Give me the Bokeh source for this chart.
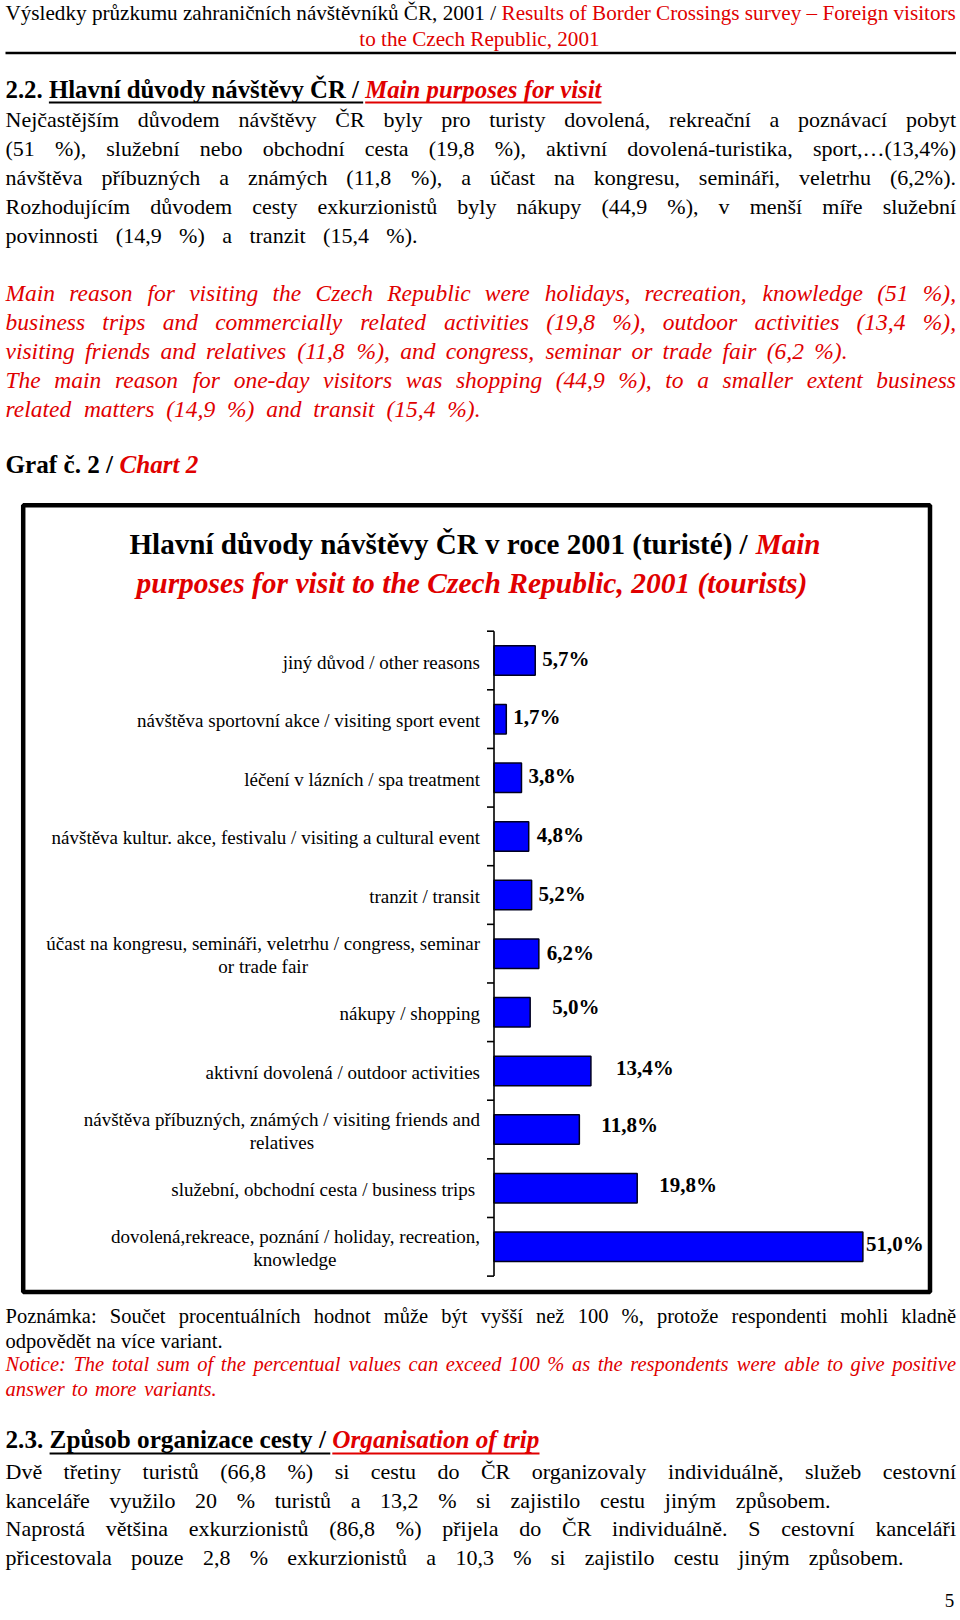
import os
import struct
import numpy as np
from bokeh.plotting import figure
from bokeh.models import Range1d, ColumnDataSource
from bokeh.core.properties import value
from bokeh.embed import file_html
from bokeh.resources import INLINE

# ---------------- chart data ----------------
categories = [
    "jiný důvod / other reasons",
    "návštěva sportovní akce / visiting sport event",
    "léčení v lázních / spa treatment",
    "návštěva kultur. akce, festivalu / visiting a cultural event",
    "tranzit / transit",
    "účast na kongresu, semináři, veletrhu / congress, seminar\nor trade fair",
    "nákupy / shopping",
    "aktivní dovolená / outdoor activities",
    "návštěva příbuzných, známých / visiting friends and\nrelatives",
    "služební,  obchodní cesta / business trips",
    "dovolená,rekreace, poznání / holiday, recreation,\nknowledge",
]
shares = [5.7, 1.7, 3.8, 4.8, 5.2, 6.2, 5.0, 13.4, 11.8, 19.8, 51.0]

chart_title_cz = "Hlavní důvody návštěvy ČR v roce 2001 (turisté) /"
chart_title_en1 = "Main"
chart_title_en2 = "purposes for visit to the Czech Republic, 2001 (tourists)"

# ---------------- page texts ----------------
header_cz = "Výsledky průzkumu zahraničních návštěvníků ČR, 2001 /"
header_en1 = "Results of Border Crossings survey – Foreign visitors"
header_en2 = "to the Czech Republic, 2001"

heading22_cz = "2.2. Hlavní důvody návštěvy ČR /"
heading22_en = "Main purposes for visit"

para_cz = [
    "Nejčastějším důvodem návštěvy ČR byly pro turisty dovolená, rekreační a poznávací pobyt",
    "(51 %), služební nebo obchodní cesta (19,8 %), aktivní dovolená-turistika, sport,…(13,4%)",
    "návštěva příbuzných a známých (11,8 %), a účast na kongresu, semináři, veletrhu (6,2%).",
    "Rozhodujícím důvodem cesty exkurzionistů byly nákupy (44,9 %), v menší míře služební",
    "povinnosti (14,9 %) a tranzit (15,4 %).",
]
para_en = [
    "Main reason for visiting the Czech Republic were holidays, recreation, knowledge (51 %),",
    "business trips and commercially related activities (19,8 %), outdoor activities (13,4 %),",
    "visiting friends and relatives (11,8 %), and congress, seminar or trade fair (6,2 %).",
    "The main reason for one-day visitors was shopping (44,9 %), to a smaller extent business",
    "related matters (14,9  %) and transit (15,4  %).",
]
graf_cz = "Graf č.  2 /"
graf_en = "Chart 2"

note_cz = [
    "Poznámka: Součet procentuálních hodnot může být vyšší než 100 %, protože respondenti mohli kladně",
    "odpovědět na více variant.",
]
note_en = [
    "Notice: The total sum of the percentual values can exceed 100 %  as the respondents were able to give positive",
    "answer to more variants.",
]
heading23_cz = "2.3. Způsob organizace cesty /"
heading23_en = "Organisation of trip"
para2_cz = [
    "Dvě třetiny turistů (66,8 %) si cestu do ČR organizovaly individuálně, služeb cestovní",
    "kanceláře využilo 20 % turistů a 13,2 % si zajistilo cestu jiným způsobem.",
    "Naprostá většina exkurzionistů (86,8 %) přijela do ČR individuálně. S cestovní kanceláři",
    "přicestovala pouze 2,8 % exkurzionistů a 10,3 % si zajistilo cestu jiným způsobem.",
]
page_number = "5"

# ---------------- layout / style (page pixel coordinates) ----------------
BLACK = "#000000"
RED = "#E00000"
BLUE = "#0000FF"
FONT = "Liberation Serif"
W, H = 958, 1616
PX0, PX1, PY0, PY1 = 0, W, 0, H
LM, RM = 5, 955.5
AXIS_X = 493.5
PX_PER_PCT = 7.233
ROW0_Y = 660.0
ROW_PX = 58.63
BAR_PX = 29.5
label_dx = [7, 7, 7, 8, 7, 8, 22, 25, 22, 22, 3]
label_dy = [-2, -2, -2, -1, -1, -1, -5, -3, -5, -3, -3]


# ---------------- font metrics (for justification) ----------------
def find_font(name):
    roots = ["/usr/share/fonts", "/usr/local/share/fonts",
             os.path.expanduser("~/.fonts"), os.path.expanduser("~/.local/share/fonts")]
    for r in roots:
        if not os.path.isdir(r):
            continue
        for d, _, files in os.walk(r):
            if name in files:
                return os.path.join(d, name)
    return None


class TTFMetrics:
    def __init__(self, path):
        data = open(path, "rb").read()
        self.data = data
        num = struct.unpack(">H", data[4:6])[0]
        tables = {}
        for i in range(num):
            tag, cs, off, ln = struct.unpack(">4sIII", data[12 + 16 * i: 28 + 16 * i])
            tables[tag.decode("latin1")] = off
        head = tables["head"]
        self.upem = struct.unpack(">H", data[head + 18: head + 20])[0]
        hhea = tables["hhea"]
        nhm = struct.unpack(">H", data[hhea + 34: hhea + 36])[0]
        hmtx = tables["hmtx"]
        self.adv = [struct.unpack(">H", data[hmtx + 4 * i: hmtx + 4 * i + 2])[0] for i in range(nhm)]
        cmap = tables["cmap"]
        n = struct.unpack(">H", data[cmap + 2: cmap + 4])[0]
        sub = None
        for i in range(n):
            pid, eid, off = struct.unpack(">HHI", data[cmap + 4 + 8 * i: cmap + 12 + 8 * i])
            fmt = struct.unpack(">H", data[cmap + off: cmap + off + 2])[0]
            if fmt == 4 and ((pid == 3 and eid in (0, 1)) or pid == 0):
                sub = cmap + off
                if pid == 3 and eid == 1:
                    break
        o = sub
        segx2 = struct.unpack(">H", data[o + 6: o + 8])[0]
        seg = segx2 // 2
        self.ends = struct.unpack(">%dH" % seg, data[o + 14: o + 14 + segx2])
        self.starts = struct.unpack(">%dH" % seg, data[o + 16 + segx2: o + 16 + 2 * segx2])
        self.deltas = struct.unpack(">%dh" % seg, data[o + 16 + 2 * segx2: o + 16 + 3 * segx2])
        self.rpos = o + 16 + 3 * segx2
        self.roffs = struct.unpack(">%dH" % seg, data[self.rpos: self.rpos + segx2])
        self.cache = {}

    def gid(self, c):
        if c in self.cache:
            return self.cache[c]
        cp = ord(c)
        g = 0
        for i in range(len(self.ends)):
            if cp <= self.ends[i]:
                if cp >= self.starts[i]:
                    if self.roffs[i] == 0:
                        g = (cp + self.deltas[i]) & 0xFFFF
                    else:
                        addr = self.rpos + 2 * i + self.roffs[i] + 2 * (cp - self.starts[i])
                        gg = struct.unpack(">H", self.data[addr: addr + 2])[0]
                        g = (gg + self.deltas[i]) & 0xFFFF if gg else 0
                break
        self.cache[c] = g
        return g

    def width(self, s, size):
        tot = 0
        for c in s:
            g = self.gid(c)
            tot += self.adv[min(g, len(self.adv) - 1)]
        return tot * size / self.upem


class ApproxMetrics:
    def __init__(self, bold):
        self.k = 1.05 if bold else 1.0

    def width(self, s, size):
        tot = 0.0
        for c in s:
            if c == " ":
                w = 0.25
            elif c in "il.,;:'!|íĺľj()/t":
                w = 0.29
            elif c.isdigit():
                w = 0.5
            elif c in "mwMW%":
                w = 0.8
            elif c.isupper():
                w = 0.68
            else:
                w = 0.46
            tot += w
        return tot * size * self.k


FM = {}
for style, fname in [("normal", "LiberationSerif-Regular.ttf"), ("bold", "LiberationSerif-Bold.ttf"),
                     ("italic", "LiberationSerif-Italic.ttf"), ("bold italic", "LiberationSerif-BoldItalic.ttf")]:
    path = find_font(fname)
    m = None
    if path:
        try:
            m = TTFMetrics(path)
        except Exception:
            m = None
    FM[style] = m if m is not None else ApproxMetrics("bold" in style)

# ---------------- text placement helpers ----------------
items = dict(x=[], y=[], text=[], fsize=[], fstyle=[], tcolor=[])
rules = dict(x0=[], x1=[], y0=[], y1=[], lcolor=[], lw=[])


def put(x, y, s, size, style, color):
    # y is the wanted baseline; the renderer sets alphabetic text ~0.33em lower
    items["x"].append(x)
    items["y"].append(y - 0.33 * size - 1.5)
    items["text"].append(s)
    items["fsize"].append("%.2fpx" % size)
    items["fstyle"].append(style)
    items["tcolor"].append(color)


def place(segs, y, x0=None, x1=None, size=None, fit=False, center=None, justify=False):
    words = []
    for si, (t, st, col) in enumerate(segs):
        for w in t.split():
            words.append((w, st, col, si))

    def metr(sz):
        return ([FM[st].width(w, sz) for (w, st, col, si) in words],
                [FM[st].width(" ", sz) for (w, st, col, si) in words])

    if fit:
        ww, sw = metr(1.0)
        size = (x1 - x0) / (sum(ww) + sum(sw[:-1]))
    ww, sw = metr(size)
    n = len(words)
    if justify and n > 1:
        gap = (x1 - x0 - sum(ww)) / (n - 1)
        while gap < 0.6 * sw[0]:
            size *= 0.98
            ww, sw = metr(size)
            gap = (x1 - x0 - sum(ww)) / (n - 1)
        gaps = [gap] * (n - 1)
    else:
        gaps = sw[:-1]
    total = sum(ww) + sum(gaps)
    if center is not None:
        x0 = center - total / 2
    xs = []
    x = x0
    for i in range(n):
        xs.append(x)
        x += ww[i] + (gaps[i] if i < n - 1 else 0)
    if justify:
        for i, (w, st, col, si) in enumerate(words):
            put(xs[i], y, w, size, st, col)
    else:
        for si, (t, st, col) in enumerate(segs):
            idx = [i for i in range(n) if words[i][3] == si]
            put(xs[idx[0]], y, " ".join(words[i][0] for i in idx), size, st, col)
    ext = [(xs[i], xs[i] + ww[i], words[i][3]) for i in range(n)]
    return ext, size


def rule(x0, x1, y, color, lw):
    rules["x0"].append(x0)
    rules["x1"].append(x1)
    rules["y0"].append(y)
    rules["y1"].append(y)
    rules["lcolor"].append(color)
    rules["lw"].append(lw)


def underline(ext, y, skip_first=1):
    segs = sorted(set(e[2] for e in ext))
    for k, si in enumerate(segs):
        e = [t for t in ext if t[2] == si]
        if k == 0:
            e = e[skip_first:]
        col = BLACK if k == 0 else RED
        x_end = e[-1][1]
        if k + 1 < len(segs):
            nxt = [t for t in ext if t[2] == segs[k + 1]]
            x_end = nxt[0][0] - 2
        rule(e[0][0], x_end, y, col, 2)


# ---------------- page text layout ----------------
_, hs = place([(header_cz, "normal", BLACK), (header_en1, "normal", RED)], 21, LM, RM, fit=True)
place([(header_en2, "normal", RED)], 46.5, size=hs, center=479)
rule(LM, RM, 52.5, BLACK, 2.5)

ext, _ = place([(heading22_cz, "bold", BLACK), (heading22_en, "bold italic", RED)], 98.5, LM, 601, fit=True)
underline(ext, 102)

para_cz_y = [127.5, 156.3, 185.5, 214.5, 243.5]
para_cz_end = [RM, RM, RM, RM, 417]
for t, yy, xe in zip(para_cz, para_cz_y, para_cz_end):
    place([(t, "normal", BLACK)], yy, LM, xe, size=22, justify=True)

para_en_y = [302.0, 330.5, 360.0, 389.0, 417.5]
para_en_end = [RM, RM, 847, RM, 480]
for t, yy, xe in zip(para_en, para_en_y, para_en_end):
    place([(t, "italic", RED)], yy, LM, xe, size=23.5, justify=True)

place([(graf_cz, "bold", BLACK), (graf_en, "bold italic", RED)], 474, LM, 198, fit=True)

place([(chart_title_cz, "bold", BLACK), (chart_title_en1, "bold italic", RED)], 555, 129, 820, fit=True)
place([(chart_title_en2, "bold italic", RED)], 594, 136, 807, fit=True)

note_y = [1324, 1349]
note_end = [RM, 222]
for t, yy, xe in zip(note_cz, note_y, note_end):
    place([(t, "normal", BLACK)], yy, LM, xe, size=20.5, justify=True)
note_en_y = [1372, 1397]
note_en_end = [RM, 216]
for t, yy, xe in zip(note_en, note_en_y, note_en_end):
    place([(t, "italic", RED)], yy, LM, xe, size=20.5, justify=True)

ext, _ = place([(heading23_cz, "bold", BLACK), (heading23_en, "bold italic", RED)], 1449, LM, 539, fit=True)
underline(ext, 1453)

para2_y = [1480, 1509, 1537, 1566]
para2_end = [RM, 830, RM, 903]
for t, yy, xe in zip(para2_cz, para2_y, para2_end):
    place([(t, "normal", BLACK)], yy, LM, xe, size=22, justify=True)

place([(page_number, "normal", BLACK)], 1608, size=19, center=949)

# ---------------- figure ----------------
n = len(categories)
idx = np.arange(n)
p = figure(
    width=W, height=H,
    x_range=Range1d((PX0 - AXIS_X) / PX_PER_PCT, (PX1 - AXIS_X) / PX_PER_PCT),
    y_range=Range1d((PY1 - ROW0_Y) / ROW_PX, (PY0 - ROW0_Y) / ROW_PX),
    x_axis_type=None, y_axis_type=None,
    toolbar_location=None, output_backend="svg", min_border=0,
)
p.extra_x_ranges = {"px": Range1d(PX0, PX1)}
p.extra_y_ranges = {"px": Range1d(PY1, PY0)}
p.outline_line_color = None
p.background_fill_color = "white"
p.border_fill_color = "white"
p.grid.visible = False

# chart frame box
p.quad(left=[22.7], right=[929.5], top=[504.7], bottom=[1291.5], fill_color=None,
       line_color=BLACK, line_width=4.5, x_range_name="px", y_range_name="px")

# bars
bars = ColumnDataSource(dict(
    y=idx, right=shares,
    label=[("%.1f%%" % v).replace(".", ",") for v in shares],
    ly=idx + np.array(label_dy) / ROW_PX,
    dx=label_dx,
))
p.hbar(y="y", left=0, right="right", height=BAR_PX / ROW_PX, source=bars,
       fill_color=BLUE, line_color="#000020", line_width=1.5)

# category axis (line + outward ticks at category boundaries)
p.segment(x0=[0], y0=[-0.5], x1=[0], y1=[n - 0.5], line_color=BLACK, line_width=1.6)
p.ray(x=np.zeros(n + 1), y=np.arange(n + 1) - 0.5, length=7, length_units="screen",
      angle=np.pi, line_color=BLACK, line_width=1.6)

# category labels
LBL_GAP = 14
widest = max((line for c in categories for line in c.split("\n")), key=lambda s: FM["normal"].width(s, 1.0))
LBL_SIZE = min(19.0, 438.0 / FM["normal"].width(widest, 1.0))
lab = dict(x=[], y=[], text=[], xoff=[], talign=[])
for i, c in enumerate(categories):
    lines = c.split("\n")
    if len(lines) == 1:
        lab["x"].append(0); lab["y"].append(i + 1.5 / ROW_PX); lab["text"].append(lines[0])
        lab["xoff"].append(-LBL_GAP); lab["talign"].append("right")
    else:
        w1 = FM["normal"].width(lines[0], LBL_SIZE)
        lab["x"].append(0); lab["y"].append(i - 10.5 / ROW_PX); lab["text"].append(lines[0])
        lab["xoff"].append(-LBL_GAP); lab["talign"].append("right")
        lab["x"].append(0); lab["y"].append(i + 13 / ROW_PX); lab["text"].append(lines[1])
        lab["xoff"].append(-LBL_GAP - w1 / 2); lab["talign"].append("center")
p.text(x="x", y="y", text="text", x_offset="xoff", text_align="talign", source=ColumnDataSource(lab),
       text_baseline="middle", text_font=value(FONT), text_font_size="%.2fpx" % LBL_SIZE,
       text_color=BLACK)

# value labels
p.text(x="right", y="ly", text="label", x_offset="dx", source=bars, text_align="left",
       text_baseline="middle", text_font=value(FONT), text_font_size="21px",
       text_font_style="bold", text_color=BLACK)

# page rules / underlines
p.segment(x0="x0", y0="y0", x1="x1", y1="y1", line_color="lcolor", line_width="lw",
          source=ColumnDataSource(rules), x_range_name="px", y_range_name="px")

# page texts
p.text(x="x", y="y", text="text", text_font_size="fsize", text_font_style="fstyle",
       text_color="tcolor", text_align="left", text_baseline="alphabetic",
       text_font=value(FONT), source=ColumnDataSource(items), x_range_name="px", y_range_name="px")

open("out.html", "w").write(file_html(p, INLINE))
